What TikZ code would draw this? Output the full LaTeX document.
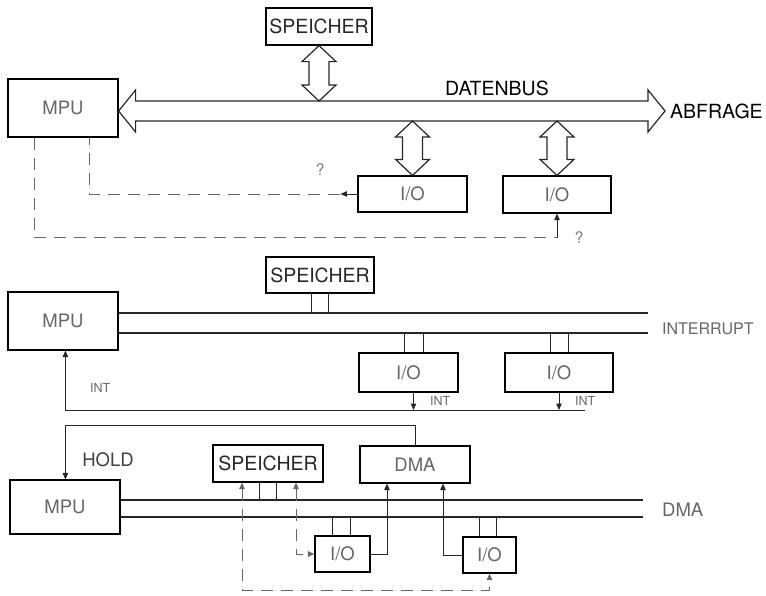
\documentclass[tikz,border=0pt]{standalone}
\usepackage{fontspec}
\setmainfont{TeX Gyre Heros}
\usetikzlibrary{arrows.meta,calc}
\newcommand\dblvarrow[2]{%
  \draw[hollow] let \p1=(#1), \p2=(#2) in
    (\x1,\y1) -- (\x1+17pt,\y1-16pt) -- (\x1+10pt,\y1-16pt) -- (\x1+10pt,\y2+16pt)
    -- (\x1+17pt,\y2+16pt) -- (\x1,\y2) -- (\x1-17pt,\y2+16pt) -- (\x1-10pt,\y2+16pt)
    -- (\x1-10pt,\y1-16pt) -- (\x1-17pt,\y1-16pt) -- cycle;}
\newcommand\stubs[3]{%
  \coordinate (sA) at ([xshift=-#3pt]#1);
  \coordinate (sB) at ([xshift=#3pt]#1);
  \draw[ln] (sA) -- (sA |- #2) (sB) -- (sB |- #2);}
\begin{document}
\begin{tikzpicture}[x=1pt,y=-1pt,
  box/.style 2 args={draw,line width=1.2pt,inner sep=0pt,minimum width=#1,minimum height=#2},
  tA/.style={font=\fontsize{19.5}{22}\selectfont,text=black!85},
  tL/.style={font=\fontsize{18.5}{21}\selectfont,text=black!60},
  tS/.style={font=\fontsize{12.5}{14}\selectfont,text=black!60},
  tQ/.style={font=\fontsize{16}{18}\selectfont,text=black!50},
  ln/.style={line width=1pt,draw=black!85},
  bus/.style={line width=1.2pt,draw=black!85},
  hollow/.style={line width=1.2pt,draw=black!85,line join=miter},
  dsh/.style={line width=1pt,draw=black!60,dash pattern=on 12pt off 8pt},
  >={Triangle[length=6.5pt,width=5.5pt]}]
\useasboundingbox (0,0) rectangle (766,595);

% ---------------- top: polling ----------------
\node[box={106}{37},tA] (sp1) at (319,26.5) {SPEICHER};
\node[box={110}{58},tL] (mpu1) at (63,108) {MPU};
\node[box={109}{36},tL] (io1) at (412.5,194) {I/O};
\node[box={108}{37},tL] (io2) at (557,194.5) {I/O};

\coordinate (busL) at ($(mpu1.east)+(0,3)$);
\coordinate (busR) at (665,111);
\coordinate (busT) at ($(busL)+(0,-10)$);
\coordinate (busB) at ($(busL)+(0,10)$);
\draw[hollow] let \p1=(busL), \p2=(busR) in
  (\x1,\y1) -- (\x1+17pt,\y1+21pt) -- (\x1+17pt,\y1+10pt) -- (\x2-17pt,\y1+10pt)
  -- (\x2-17pt,\y1+21pt) -- (\x2,\y1) -- (\x2-17pt,\y1-21pt) -- (\x2-17pt,\y1-10pt)
  -- (\x1+17pt,\y1-10pt) -- (\x1+17pt,\y1-21pt) -- cycle;
\node[tA,text=black] (datenbus) at (497,88) {DATENBUS};
\node[tA,text=black,anchor=west,inner sep=0pt] (abfrage) at ($(busR)+(5,0)$) {ABFRAGE};

\dblvarrow{sp1.south}{sp1.south |- busT}
\dblvarrow{io1.north |- busB}{io1.north}
\dblvarrow{io2.north |- busB}{io2.north}

\coordinate (m1a) at ($(mpu1.south west)+(82,0)$);
\coordinate (m1b) at ($(mpu1.south west)+(27,0)$);
\draw[ln,->] (io1.west) -- ++(-17,0) coordinate (q1);
\draw[dsh] (q1) -| (m1a);
\coordinate (q2) at ($(io2.south)+(0,24)$);
\draw[dsh] (m1b) |- (q2);
\draw[ln,->] (q2) -- (io2.south);
\node[tQ] (qm1) at (320,170) {?};
\node[tQ] (qm2) at (579,238) {?};

% ---------------- middle: interrupt ----------------
\node[box={108}{36},tA] (sp2) at (320,275) {SPEICHER};
\node[box={110}{58},tL] (mpu2) at (63,321) {MPU};
\node[box={99}{39},tL] (io3) at (408.5,372.5) {I/O};
\node[box={108}{39},tL] (io4) at (559,372.5) {I/O};
\coordinate (b2T) at (648,313);
\coordinate (b2B) at (648,333);
\draw[bus] (mpu2.east |- b2T) -- (b2T);
\draw[bus] (mpu2.east |- b2B) -- (b2B);
\node[tL,font=\fontsize{16}{18}\selectfont,anchor=west,inner sep=0pt] (interrupt) at (662,329) {INTERRUPT};
\stubs{sp2.south}{b2T}{8.5}
\coordinate (io3c) at ($(io3.north)+(5,0)$);
\stubs{io3c}{b2B}{9.5}
\stubs{io4.north}{b2B}{9}

\coordinate (intend) at (585,410);
\coordinate (m2int) at ($(mpu2.south west)+(58,0)$);
\draw[ln,->] (intend) -| (m2int);
\coordinate (i3b) at (io3c |- io3.south);
\draw[ln,->] (i3b) -- (i3b |- intend);
\draw[ln,->] (io4.south) -- (io4.south |- intend);
\node[tS,anchor=west,inner sep=0pt] (int1) at (430,401) {INT};
\node[tS,anchor=west,inner sep=0pt] (int2) at (575,401) {INT};
\node[tS,anchor=west,inner sep=0pt] (int0) at (90,388) {INT};

% ---------------- bottom: DMA ----------------
\node[box={110}{54},tL] (mpu3) at (65,507) {MPU};
\node[box={110}{37},tA] (sp3) at (268,463.5) {SPEICHER};
\node[box={110}{37},tL] (dma) at (415,464.5) {DMA};
\node[box={55}{36},tL] (io5) at (342.5,554) {I/O};
\node[box={53}{36},tL] (io6) at (489.5,555) {I/O};
\coordinate (b3T) at (643,500);
\coordinate (b3B) at (643,517);
\draw[bus] (mpu3.east |- b3T) -- (b3T);
\draw[bus] (mpu3.east |- b3B) -- (b3B);
\node[tL,anchor=west,inner sep=0pt] (dmalab) at (662,510) {DMA};
\stubs{sp3.south}{b3T}{8.5}
\coordinate (io5c) at ($(io5.north)+(-1.5,0)$);
\stubs{io5c}{b3B}{9}
\coordinate (io6c) at ($(io6.north)+(-2,0)$);
\stubs{io6c}{b3B}{8.5}

\coordinate (holdy) at (0,425);
\coordinate (m3h) at ($(mpu3.north west)+(56,0)$);
\draw[ln,->] (dma.north) |- (m3h |- holdy) -- (m3h);
\node[tL,text=black!75] (hold) at (108,460) {HOLD};

\coordinate (d1) at ($(dma.south)+(-28,0)$);
\coordinate (d2) at ($(dma.south)+(28,0)$);
\draw[ln,->] (io5.east) -| (d1);
\draw[ln,->] (io6.west) -| (d2);

\coordinate (s3r) at ($(sp3.south)+(28,0)$);
\coordinate (s3l) at ($(sp3.south)+(-26,0)$);
\draw[dsh,<->] (s3r) |- (io5.west);
\coordinate (low) at (0,590);
\draw[dsh,<->] (s3l) |- (low -| io6.south) -- (io6.south);
\end{tikzpicture}
\end{document}
